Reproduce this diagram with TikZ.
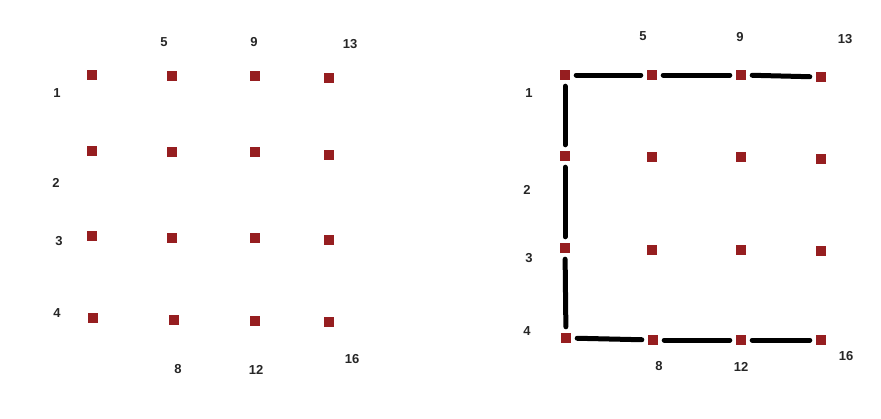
\documentclass[tikz,border=0pt]{standalone}
\usepackage{fontspec}
\setmainfont{Liberation Sans}
\tikzset{
  dot/.style={rectangle, fill=dotred, inner sep=0pt, minimum size=10pt},
  num/.style={font=\bfseries\fontsize{13}{13}\selectfont, text=black!85},
  link/.style={line width=5pt, line cap=round, shorten <=6pt, shorten >=6pt}
}
\definecolor{dotred}{RGB}{150,30,32}
\begin{document}
\begin{tikzpicture}[x=1pt, y=-1pt]
    \useasboundingbox (0,0) rectangle (881,418);

    % 1. 左边的点阵 (按列编号 1..16)
    \node[dot] (a1)  at (92, 75) {};
    \node[dot] (a2)  at (92, 151) {};
    \node[dot] (a3)  at (92, 236) {};
    \node[dot] (a4)  at (93, 318) {};
    \node[dot] (a5)  at (172, 76) {};
    \node[dot] (a6)  at (172, 152) {};
    \node[dot] (a7)  at (172, 238) {};
    \node[dot] (a8)  at (174, 320) {};
    \node[dot] (a9)  at (255, 76) {};
    \node[dot] (a10) at (255, 152) {};
    \node[dot] (a11) at (255, 238) {};
    \node[dot] (a12) at (255, 321) {};
    \node[dot] (a13) at (329, 78) {};
    \node[dot] (a14) at (329, 155) {};
    \node[dot] (a15) at (329, 240) {};
    \node[dot] (a16) at (329, 322) {};

    % 左边的编号
    \node[num] (la1)  at (57, 93) {1};
    \node[num] (la2)  at (56, 183) {2};
    \node[num] (la3)  at (59, 241) {3};
    \node[num] (la4)  at (57, 313) {4};
    \node[num] (la5)  at (164, 42) {5};
    \node[num] (la9)  at (254, 42) {9};
    \node[num] (la13) at (350, 44) {13};
    \node[num] (la8)  at (178, 369) {8};
    \node[num] (la12) at (256, 370) {12};
    \node[num] (la16) at (352, 359) {16};

    % 2. 右边的点阵
    \node[dot] (b1)  at (565, 75) {};
    \node[dot] (b2)  at (565, 156) {};
    \node[dot] (b3)  at (565, 248) {};
    \node[dot] (b4)  at (566, 338) {};
    \node[dot] (b5)  at (652, 75) {};
    \node[dot] (b6)  at (652, 157) {};
    \node[dot] (b7)  at (652, 250) {};
    \node[dot] (b8)  at (653, 340) {};
    \node[dot] (b9)  at (741, 75) {};
    \node[dot] (b10) at (741, 157) {};
    \node[dot] (b11) at (741, 250) {};
    \node[dot] (b12) at (741, 340) {};
    \node[dot] (b13) at (821, 77) {};
    \node[dot] (b14) at (821, 159) {};
    \node[dot] (b15) at (821, 251) {};
    \node[dot] (b16) at (821, 340) {};

    % 右边的编号
    \node[num] (lb1)  at (529, 93) {1};
    \node[num] (lb2)  at (527, 190) {2};
    \node[num] (lb3)  at (529, 258) {3};
    \node[num] (lb4)  at (527, 331) {4};
    \node[num] (lb5)  at (643, 36) {5};
    \node[num] (lb9)  at (740, 37) {9};
    \node[num] (lb13) at (845, 39) {13};
    \node[num] (lb8)  at (659, 366) {8};
    \node[num] (lb12) at (741, 367) {12};
    \node[num] (lb16) at (846, 356) {16};

    % 3. 右边的路径 (上、左、下三条边)
    \draw[link] (b1) -- (b5);
    \draw[link] (b5) -- (b9);
    \draw[link] (b9) -- (b13);
    \draw[link] (b1) -- (b2);
    \draw[link] (b2) -- (b3);
    \draw[link] (b3) -- (b4);
    \draw[link] (b4) -- (b8);
    \draw[link] (b8) -- (b12);
    \draw[link] (b12) -- (b16);

\end{tikzpicture}
\end{document}
